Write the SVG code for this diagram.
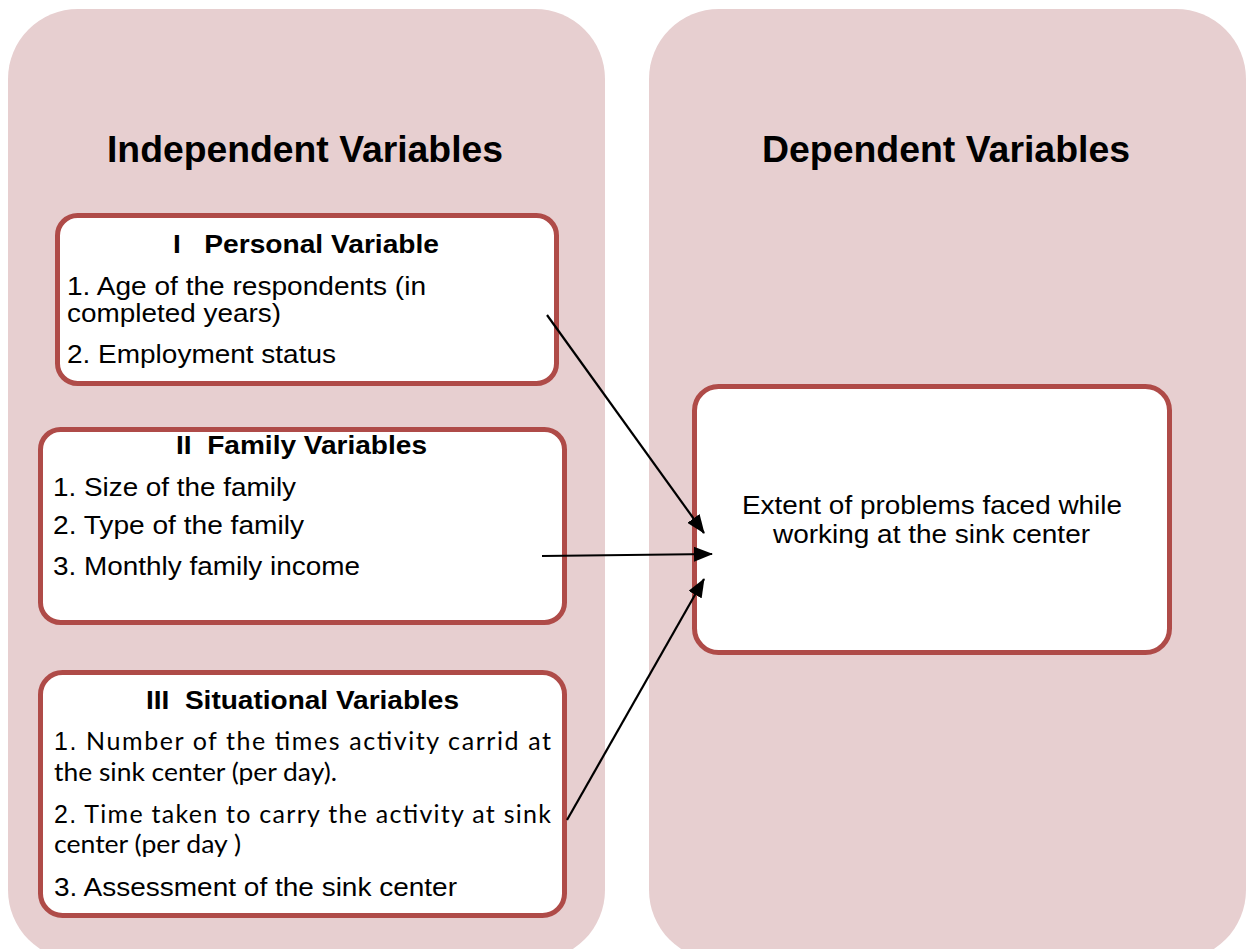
<svg xmlns="http://www.w3.org/2000/svg" width="1248" height="949" viewBox="0 0 1248 949">
<style>
.panel{fill:#E7CFD0;stroke:none}
.box{fill:#FFFFFF;stroke:#AF4B48;stroke-width:5}
.head{font-family:"Liberation Sans",Arial,sans-serif;font-weight:bold;font-size:36px;fill:#000}
.btitle{font-family:"Liberation Sans",Arial,sans-serif;font-weight:bold;font-size:26px;fill:#000}
.item{font-family:"Liberation Sans",Arial,sans-serif;font-size:25.5px;fill:#000}
.cal{font-family:Lato,"Open Sans",sans-serif;font-size:25px;fill:#000}
.conn{stroke:#000;stroke-width:2.2;fill:none;marker-end:url(#ah)}
</style>
<defs>
<marker id="ah" markerUnits="userSpaceOnUse" markerWidth="19" markerHeight="15" refX="18" refY="7.5" orient="auto">
<path d="M0,0 L19,7.5 L0,15 Z" fill="#000"/>
</marker>
</defs>
<g id="panel-independent">
<rect class="panel" x="8" y="9" width="597" height="951" rx="70" ry="70"/>
<text class="head" x="107" y="162" textLength="396" lengthAdjust="spacingAndGlyphs">Independent Variables</text>
</g>
<g id="panel-dependent">
<rect class="panel" x="649" y="9" width="597" height="951" rx="70" ry="70"/>
<text class="head" x="762" y="162" textLength="368" lengthAdjust="spacingAndGlyphs">Dependent Variables</text>
</g>
<g id="node-personal">
<rect class="box" x="57.5" y="215.5" width="499" height="168" rx="20" ry="20"/>
<text class="btitle" x="173" y="253" textLength="266" lengthAdjust="spacingAndGlyphs" xml:space="preserve">I   Personal Variable</text>
<text class="item" x="67" y="295" textLength="359" lengthAdjust="spacingAndGlyphs">1. Age of the respondents (in</text>
<text class="item" x="67" y="322" textLength="214" lengthAdjust="spacingAndGlyphs">completed years)</text>
<text class="item" x="67" y="363" textLength="269" lengthAdjust="spacingAndGlyphs">2. Employment status</text>
</g>
<g id="node-family">
<rect class="box" x="40.5" y="429.5" width="524" height="193" rx="20" ry="20"/>
<text class="btitle" x="176" y="454" textLength="251" lengthAdjust="spacingAndGlyphs" xml:space="preserve">II  Family Variables</text>
<text class="item" x="53" y="496" textLength="243" lengthAdjust="spacingAndGlyphs">1. Size of the family</text>
<text class="item" x="53" y="534" textLength="251" lengthAdjust="spacingAndGlyphs">2. Type of the family</text>
<text class="item" x="53" y="575" textLength="307" lengthAdjust="spacingAndGlyphs">3. Monthly family income</text>
</g>
<g id="node-situational">
<rect class="box" x="40.5" y="672.5" width="524" height="243" rx="22" ry="22"/>
<text class="btitle" x="146" y="709" textLength="313" lengthAdjust="spacingAndGlyphs" xml:space="preserve">III  Situational Variables</text>
<text class="cal" x="54" y="750" textLength="497" lengthAdjust="spacing"><tspan font-family="Liberation Sans, Arial, sans-serif">1.</tspan> Number of the times activity carrid at</text>
<text class="cal" x="54" y="781" textLength="283" lengthAdjust="spacingAndGlyphs">the sink center (per day).</text>
<text class="cal" x="54" y="823" textLength="497" lengthAdjust="spacing"><tspan font-family="Liberation Sans, Arial, sans-serif">2.</tspan> Time taken to carry the activity at sink</text>
<text class="cal" x="54" y="853" textLength="187" lengthAdjust="spacingAndGlyphs">center (per day )</text>
<text class="item" x="54" y="896" textLength="403" lengthAdjust="spacingAndGlyphs">3. Assessment of the sink center</text>
</g>
<g id="node-dependent">
<rect class="box" x="694.5" y="386.5" width="475" height="266" rx="24" ry="24"/>
<text class="item" x="742" y="514" textLength="380" lengthAdjust="spacingAndGlyphs">Extent of problems faced while</text>
<text class="item" x="773" y="543" textLength="317" lengthAdjust="spacingAndGlyphs">working at the sink center</text>
</g>
<g id="connectors">
<line class="conn" x1="547" y1="315" x2="704" y2="533"/>
<line class="conn" x1="542" y1="556" x2="712" y2="554"/>
<line class="conn" x1="567" y1="820" x2="704" y2="579"/>
</g>
</svg>
